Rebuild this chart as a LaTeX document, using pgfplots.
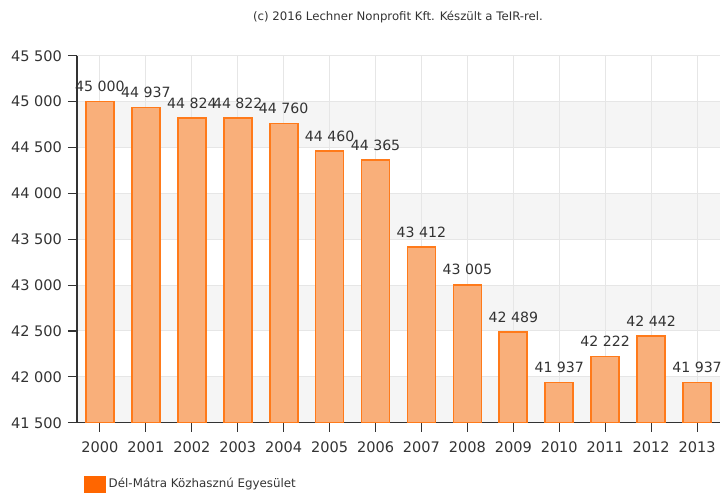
\documentclass[border=0pt]{standalone}
\usepackage{pgfplots}
\pgfplotsset{compat=1.18}
\usepackage{fontspec}
\setmainfont{DejaVu Sans}
\definecolor{barfill}{HTML}{F9AF7A}
\definecolor{baredge}{HTML}{FF7A1A}
\definecolor{legsq}{HTML}{FF6600}
\definecolor{gridc}{HTML}{E6E6E6}
\definecolor{bandc}{HTML}{F5F5F5}
\definecolor{txt}{HTML}{333333}

\begin{document}
\begin{tikzpicture}
\path (0,0) rectangle (541.5pt,371.25pt);
\node[font=\fontsize{8.8}{10}\selectfont, text=txt] at (298.5pt,358.5pt)
  {(c) 2016 Lechner Nonprofit Kft. Készült a TeIR-rel.};
\pgfplotsset{set layers}
\begin{axis}[
  at={(57.75pt,54.2pt)}, anchor=south west,
  scale only axis, width=482.25pt, height=275.25pt,
  ymin=41500, ymax=45500, ytick={41500,42000,...,45500},
  scaled y ticks=false,
  xmin=-0.5, xmax=13.5, xtick={0,...,13},
  xticklabels={2000,2001,2002,2003,2004,2005,2006,2007,2008,2009,2010,2011,2012,2013},
  axis x line*=bottom, axis y line*=left,
  axis line style={txt, line width=0.8pt, -},
  tick align=outside, major tick length=6.75pt,
  tick style={txt, line width=0.8pt},
  ymajorgrids, xmajorgrids,
  major grid style={gridc, line width=0.75pt},
  ticklabel style={font=\fontsize{10.9}{12}\selectfont, text=txt},
  /pgf/number format/assume math mode=true,
  /pgf/number format/1000 sep={\ },
  yticklabel style={xshift=-1pt},
  xticklabel style={yshift=-4pt},
  legend style={at={(axis description cs:0.011,-0.144)}, anchor=north west,
    draw=none, fill=none, font=\fontsize{8.9}{10}\selectfont, text=txt,
    inner sep=0pt, legend cell align=left},
]
\addplot[fill=bandc, draw=none, on layer=axis background, forget plot]
  coordinates {(-0.5,44500) (13.5,44500) (13.5,45000) (-0.5,45000)} -- cycle;
\addplot[fill=bandc, draw=none, on layer=axis background, forget plot]
  coordinates {(-0.5,43500) (13.5,43500) (13.5,44000) (-0.5,44000)} -- cycle;
\addplot[fill=bandc, draw=none, on layer=axis background, forget plot]
  coordinates {(-0.5,42500) (13.5,42500) (13.5,43000) (-0.5,43000)} -- cycle;
\addplot[fill=bandc, draw=none, on layer=axis background, forget plot]
  coordinates {(-0.5,41500) (13.5,41500) (13.5,42000) (-0.5,42000)} -- cycle;
\addplot[ybar, bar width=21pt, fill=barfill, draw=baredge, line width=1.3pt,
  nodes near coords,
  every node near coord/.append style={font=\fontsize{10.6}{12}\selectfont, text=txt, inner sep=0pt, yshift=6.5pt},
  legend image code/.code={\fill[legsq] (0pt,-5.6pt) rectangle (15pt,5.6pt);}]
coordinates {(0,45000) (1,44937) (2,44824) (3,44822) (4,44760) (5,44460) (6,44365)
 (7,43412) (8,43005) (9,42489) (10,41937) (11,42222) (12,42442) (13,41937)};
\addlegendentry{Dél-Mátra Közhasznú Egyesület}
\end{axis}
\end{tikzpicture}
\end{document}
